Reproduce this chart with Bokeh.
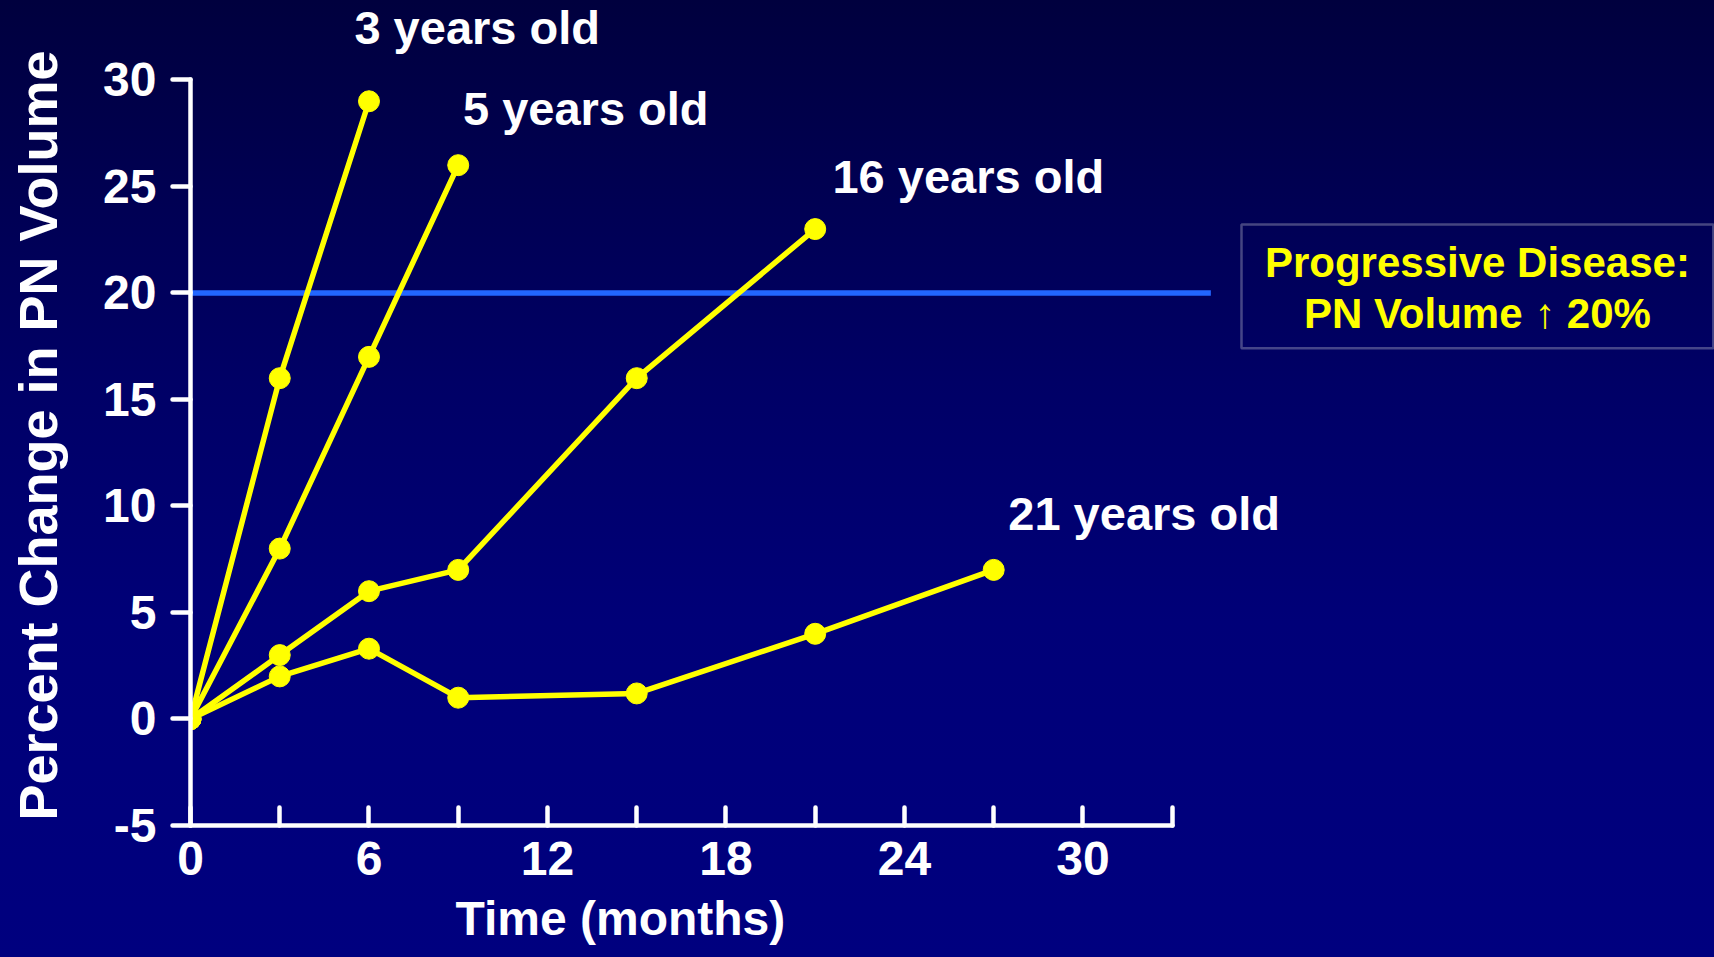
from bokeh.plotting import figure
from bokeh.models import FixedTicker, BoxAnnotation, Range1d, Title
from bokeh.embed import file_html
from bokeh.resources import INLINE
from bokeh.core.properties import value

# ---- data ----
months_3yo = [0, 3, 6]
change_3yo = [0, 16, 29]
months_5yo = [0, 3, 6, 9]
change_5yo = [0, 8, 17, 26]
months_16yo = [0, 3, 6, 9, 15, 21]
change_16yo = [0, 3, 6, 7, 16, 23]
months_21yo = [0, 3, 6, 9, 15, 21, 27]
change_21yo = [0, 2, 3.3, 1.0, 1.2, 4, 7]
series_labels = ["3 years old", "5 years old", "16 years old", "21 years old"]
threshold = 20
x_ticks = [0, 6, 12, 18, 24, 30]
x_minor_ticks = [3, 9, 15, 21, 27, 33]
y_ticks = [-5, 0, 5, 10, 15, 20, 25, 30]
box_lines = ["Progressive Disease:", "PN Volume \u2191 20%"]
x_title = "Time (months)"
y_title = "Percent Change in PN Volume"

# ---- layout / style ----
FONT = "Liberation Sans"
YELLOW = "#FFFF00"
BLUE = "#2266FF"
WHITE = "#FFFFFF"

p = figure(width=1714, height=957, output_backend="svg", toolbar_location=None,
           x_range=Range1d(0, 51.23), y_range=Range1d(-5, 33.73),
           min_border_left=190, min_border_right=0, min_border_top=0,
           min_border_bottom=131,
           background_fill_alpha=0, border_fill_alpha=0, outline_line_color=None)
p.styles = {"background": "linear-gradient(to bottom, #00003e 0%, #000066 40%, #000078 65%, #00007f 100%)"}
p.grid.visible = False

xa = p.xaxis[0]
xa.ticker = FixedTicker(ticks=x_ticks, minor_ticks=x_minor_ticks)
xa.bounds = (0, 33)
xa.axis_line_color = WHITE
xa.axis_line_width = 4.5
xa.axis_line_cap = "round"
xa.major_tick_in = 18
xa.major_tick_out = 0
xa.minor_tick_in = 18
xa.minor_tick_out = 0
xa.major_tick_line_color = WHITE
xa.major_tick_line_width = 4.5
xa.major_tick_line_cap = "round"
xa.minor_tick_line_color = WHITE
xa.minor_tick_line_width = 4.5
xa.minor_tick_line_cap = "round"
xa.major_label_text_font = FONT
xa.major_label_text_font_size = "48px"
xa.major_label_text_font_style = "bold"
xa.major_label_text_color = WHITE
xa.major_label_standoff = 16

ya = p.yaxis[0]
ya.ticker = FixedTicker(ticks=y_ticks, minor_ticks=[])
ya.bounds = (-5, 30)
ya.axis_line_color = WHITE
ya.axis_line_width = 4.5
ya.axis_line_cap = "round"
ya.major_tick_in = 0
ya.major_tick_out = 18
ya.minor_tick_line_color = None
ya.major_tick_line_color = WHITE
ya.major_tick_line_width = 4.5
ya.major_tick_line_cap = "round"
ya.major_label_text_font = FONT
ya.major_label_text_font_size = "48px"
ya.major_label_text_font_style = "bold"
ya.major_label_text_color = WHITE
ya.major_label_standoff = 16
ya.major_label_overrides = {-5: "-5"}
# trailing no-break spaces nudge the visible title slightly down the axis
ya.axis_label = y_title + "\u00a0\u00a0\u00a0"
ya.axis_label_text_font = FONT
ya.axis_label_text_font_size = "54px"
ya.axis_label_text_font_style = "bold"
ya.axis_label_text_color = WHITE
ya.axis_label_standoff = 32

# x axis title, placed under the tick labels at the reference position
p.add_layout(Title(text=x_title, align="left", offset=265, standoff=25,
                   text_font=FONT, text_font_size="48px", text_font_style="bold",
                   text_color=WHITE), "below")

# threshold line (progressive disease)
p.line([0, 34.3], [threshold, threshold], line_color=BLUE, line_width=5.5)

for xs, ys in [(months_3yo, change_3yo), (months_5yo, change_5yo),
               (months_16yo, change_16yo), (months_21yo, change_21yo)]:
    p.line(xs, ys, line_color=YELLOW, line_width=5.5, line_join="round")
    p.scatter(xs, ys, size=21, fill_color=YELLOW, line_color=YELLOW)

# series labels
p.text(x=[5.51, 9.16, 21.58, 27.49], y=[32.45, 28.64, 25.46, 9.63],
       text=series_labels, text_font=value(FONT), text_font_style="bold",
       text_font_size="47px", text_color=WHITE,
       text_align="left", text_baseline="middle")

# legend-like box
p.add_layout(BoxAnnotation(left=35.33, right=51.19, top=23.22, bottom=17.40,
                           fill_alpha=0, line_color="#E6E6E6", line_width=2.5))
p.text(x=[43.26, 43.26], y=[21.43, 19.04], text=box_lines,
       text_font=value(FONT), text_font_style="bold", text_font_size="42px",
       text_color=YELLOW, text_align="center", text_baseline="middle")

open("out.html", "w", encoding="utf-8").write(file_html(p, INLINE, title="PN Volume"))
